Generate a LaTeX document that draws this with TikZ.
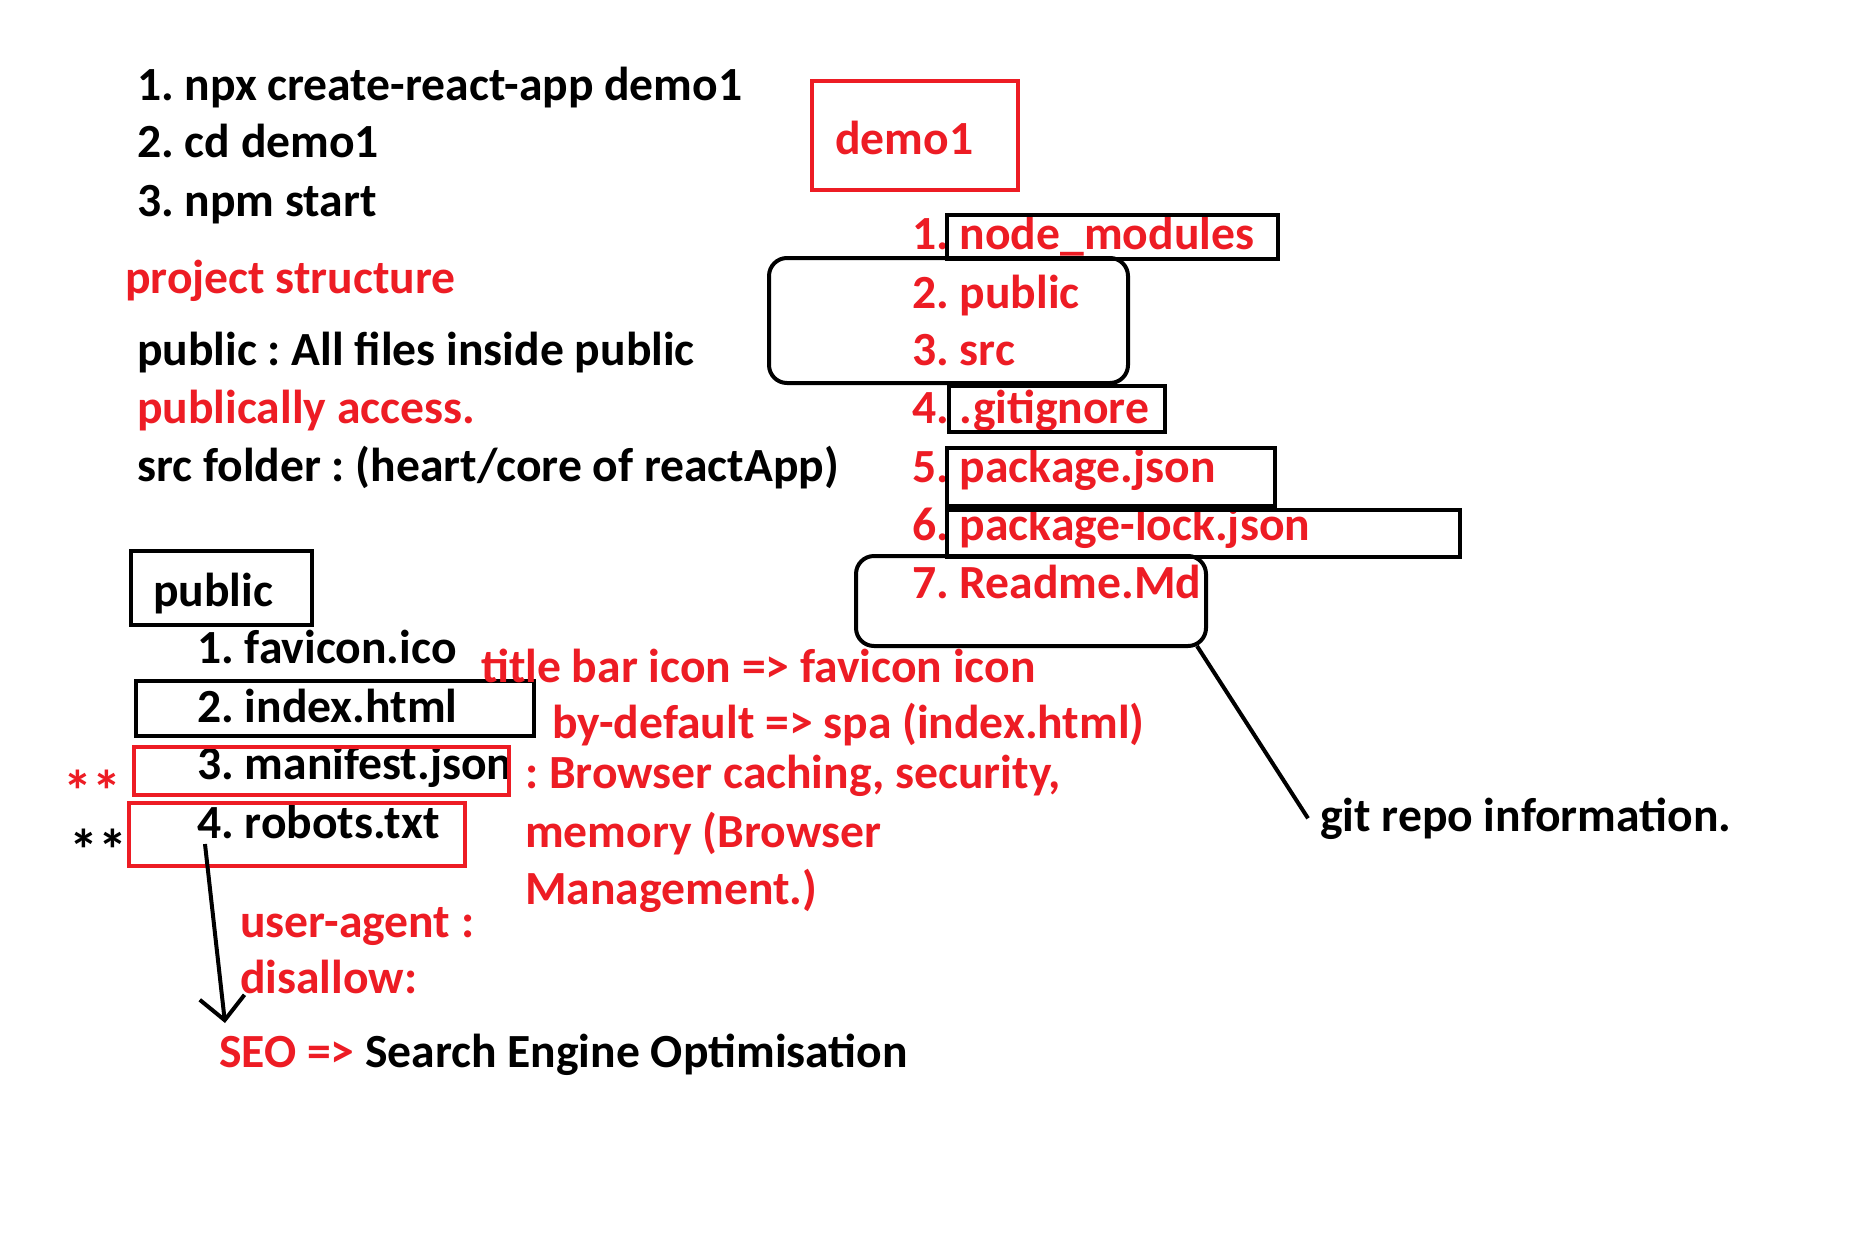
\documentclass[tikz,border=0pt]{standalone}
\usepackage{fontspec}
\setmainfont{Carlito}
\usetikzlibrary{arrows.meta}
\definecolor{paintred}{HTML}{ED1C24}
\frenchspacing
\tikzset{
  txt/.style={anchor=base west, inner sep=0pt, font=\fontsize{47.6}{56}\selectfont\bfseries},
  redtxt/.style={txt, text=paintred},
  startxt/.style={txt, font=\fontsize{58}{60}\selectfont\bfseries},
  blackbox/.style={draw=black, line width=4pt},
  redbox/.style={draw=paintred, line width=4pt},
  roundbox/.style={blackbox, rounded corners=18pt},
}

\begin{document}
\begin{tikzpicture}[x=1pt, y=-1pt]
	\fill[white] (0,0) rectangle (1870,1253);
	\useasboundingbox (0,0) rectangle (1870,1253);

	% commands and notes on the left
	\node[txt] (cmdone) at (137,100) {1. npx create-react-app demo1};
	\node[txt] (cmdtwo) at (137,157) {2. cd demo1};
	\node[txt] (cmdthree) at (137,216) {3. npm start};
	\node[redtxt] (structure) at (125,293) {project structure};
	\node[txt] (publicnote) at (137,365) {public : All files inside public};
	\node[redtxt] (publicaccess) at (137,423) {publically access.};
	\node[txt] (srcnote) at (137,481) {src folder : (heart/core of reactApp)};

	% project folder
	\draw[redbox] (812,81) rectangle (1018,190);
	\node[redtxt] (demo) at (835,154) {demo1};
	\node[redtxt] (modules) at (912,249) {1. node\_modules};
	\node[redtxt] (public) at (912,308) {2. public};
	\node[redtxt] (src) at (912,365) {3. src};
	\node[redtxt] (gitignore) at (912,423) {4. .gitignore};
	\node[redtxt] (package) at (912,482) {5. package.json};
	\node[redtxt] (packagelock) at (912,540) {6. package-lock.json};
	\node[redtxt] (readme) at (912,598) {7. Readme.Md};
	\draw[blackbox] (947,215) rectangle (1278,259);
	\draw[roundbox] (769,258) rectangle (1128,383);
	\draw[blackbox] (949,386) rectangle (1165,432);
	\draw[blackbox] (947,448) rectangle (1275,506);
	\draw[blackbox] (947,510) rectangle (1460,557);
	\draw[roundbox] (856,556) rectangle (1206,646);

	\node[txt] (gitinfo) at (1320,831) {git repo information.};
	\coordinate (readmecorner) at (1197,646);
	\draw[line width=4pt] (readmecorner) -- ([xshift=-12pt]gitinfo.west);

	% public folder
	\draw[blackbox] (131,551) rectangle (312,625);
	\node[txt] (publicdir) at (153,606) {public};
	\node[txt] (favicon) at (197,663) {1. favicon.ico};
	\node[txt] (index) at (197,722) {2. index.html};
	\node[txt] (manifest) at (197,779) {3. manifest.json};
	\node[txt] (robots) at (197,838) {4. robots.txt};
	\draw[blackbox] (136,681) rectangle (534,736);
	\draw[redbox] (134,747) rectangle (509,795);
	\draw[redbox] (129,803) rectangle (465,866);
	\node[startxt, text=paintred] (starred) at (63,811) {**};
	\node[startxt] (starblack) at (69,870) {**};

	% notes on the files
	\node[redtxt] (titlebar) at (481,682) {title bar icon => favicon icon};
	\node[redtxt] (bydefault) at (552,738) {by-default => spa (index.html)};
	\node[redtxt] (caching) at (525,788) {: Browser caching, security,};
	\node[redtxt] (memory) at (525,847) {memory (Browser};
	\node[redtxt] (management) at (525,904) {Management.)};
	\node[redtxt] (useragent) at (240,937) {user-agent :};
	\node[redtxt] (disallow) at (240,993) {disallow:};
	\node[txt] (seo) at (219,1067) {{\color{paintred}SEO =>} Search Engine Optimisation};

	\coordinate (robotsfoot) at (205,844);
	\coordinate (seotip) at (225,1023);
	\draw[line width=4pt, -{Straight Barb[length=23pt, width=45pt]}] (robotsfoot) -- (seotip);
\end{tikzpicture}
\end{document}
